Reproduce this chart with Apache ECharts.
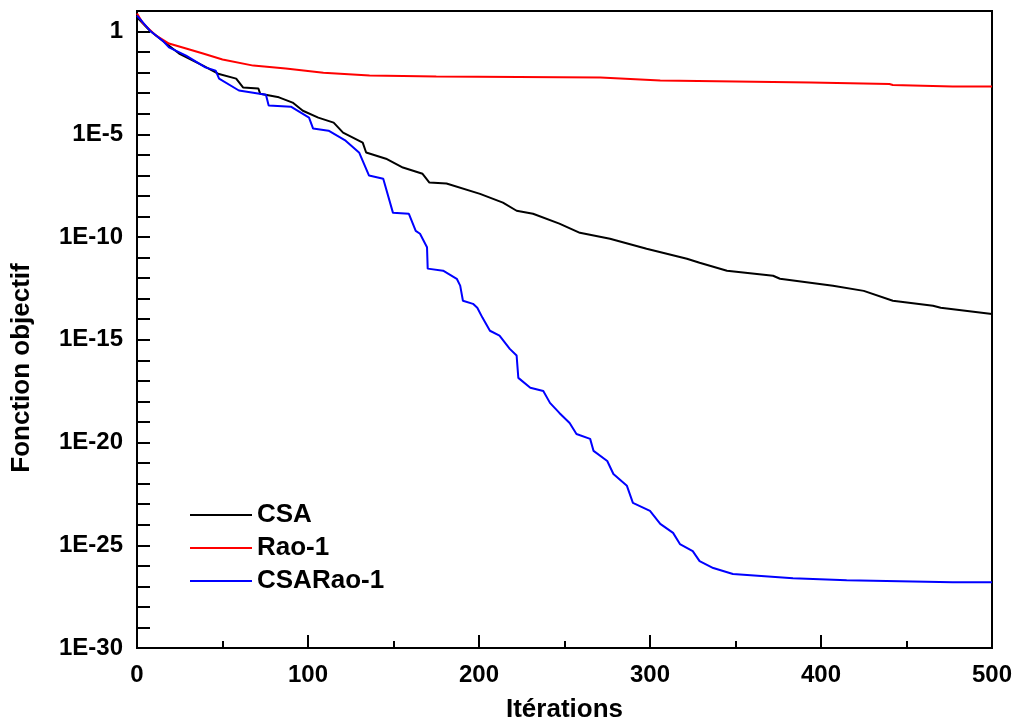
<!DOCTYPE html>
<html>
<head>
<meta charset="utf-8">
<script src="https://cdn.jsdelivr.net/npm/echarts@6/dist/echarts.min.js"></script>
<style>
  html, body { margin: 0; padding: 0; background: #fff; }
  #chart { width: 1019px; height: 724px; }
</style>
</head>
<body>
<div id="chart"></div>
<script>
// [iteration, objective value]
const csa = [
  [0, 5.0], [7.6, 1.1], [15, 0.36], [24.6, 0.085], [38.6, 0.022], [47.4, 0.0089],
  [58, 0.0051], [62, 0.0019], [71, 0.0017], [72, 9.5e-4], [83, 6.3e-4], [91, 3.5e-4],
  [97, 1.4e-4], [106, 6.5e-5], [115, 3.7e-5], [120.5, 1.2e-5], [132, 3.9e-6], [134, 1.3e-6],
  [145.6, 6.5e-7], [155.5, 2.4e-7], [167, 1.2e-7], [171, 4.5e-8], [181, 4.0e-8],
  [200.6, 1.26e-8], [214, 4.7e-9], [222, 1.9e-9], [231.6, 1.35e-9], [247, 4.5e-10],
  [259, 1.6e-10], [276.6, 8.3e-11], [298, 2.7e-11], [321.6, 8.7e-12], [329, 5.6e-12],
  [345, 2.3e-12], [372, 1.3e-12], [376, 9.3e-13], [407, 4.3e-13], [425, 2.4e-13],
  [442, 7.9e-14], [465.5, 4.5e-14], [470, 3.6e-14], [500, 1.8e-14]
];
const rao1 = [
  [0, 7.6], [3.5, 2.5], [11, 0.65], [18.7, 0.26], [28.7, 0.15], [38.6, 0.085],
  [50, 0.044], [68, 0.022], [87, 0.016], [109, 0.010], [136, 0.0072], [175, 0.0065],
  [271, 0.0058], [306, 0.0041], [394, 0.0033], [440, 0.0028], [442, 0.0025],
  [477, 0.0021], [500, 0.0021]
];
const csaRao1 = [
  [0, 6.0], [7.6, 1.1], [15, 0.36], [18.7, 0.17], [28.7, 0.068], [40, 0.018],
  [46, 0.0126], [48, 0.0051], [59.6, 0.00135], [75.4, 8.5e-4], [77, 2.5e-4], [90, 2.2e-4],
  [100.6, 6.5e-5], [103, 1.9e-5], [112, 1.5e-5], [122, 4.9e-6], [130, 1.26e-6],
  [135.7, 9.8e-8], [144, 6.9e-8], [149.7, 1.5e-9], [159, 1.35e-9], [163, 2.0e-10],
  [165.5, 1.45e-10], [169.6, 3.2e-11], [170, 2.9e-12], [179, 2.3e-12], [187, 9.3e-13],
  [189, 4.3e-13], [190.6, 7.9e-14], [196.5, 5.6e-14], [199, 3.6e-14], [202, 1.2e-14],
  [206.4, 2.75e-15], [212, 1.6e-15], [218, 3.6e-16], [222, 1.7e-16], [223, 1.4e-17],
  [230, 4.6e-18], [237.6, 3.2e-18], [241.5, 8.5e-19], [247, 2.75e-19], [253, 8.9e-20],
  [257, 2.6e-20], [265, 1.5e-20], [267, 3.9e-21], [275, 1.26e-21], [278.6, 2.95e-22],
  [286.5, 7.8e-23], [290, 1.15e-23], [300, 4.7e-24], [306, 1.1e-24], [313.5, 4.0e-25],
  [317.5, 1.15e-25], [325, 5.2e-26], [329, 1.7e-26], [337, 7.8e-27], [348.5, 4.0e-27],
  [383.6, 2.5e-27], [415, 2.0e-27], [477, 1.6e-27], [500, 1.6e-27]
];
const seriesNames = ['CSA', 'Rao-1', 'CSARao-1'];
const seriesColors = ['#000000', '#ff0000', '#0000ff'];

// y axis in decades: 1E-30 .. 10, labelled every 5 decades
const yMinExp = -30;
const yMaxExp = 1;

const font = '"Liberation Sans", Arial, sans-serif';

const chart = echarts.init(document.getElementById('chart'));

// the y axis is a linear axis over log10(value)
const toLog = (data) => data.map(([it, v]) => [it, Math.log10(v)]);

const mkLine = (name, data, color) => ({
  name: name,
  type: 'line',
  data: toLog(data),
  showSymbol: false,
  symbol: 'none',
  lineStyle: { color: color, width: 2 },
  itemStyle: { color: color }
});

chart.setOption({
  animation: false,
  grid: {
    left: 137, right: 27, top: 11, bottom: 76,
    outerBoundsMode: 'none',
    show: true, borderColor: '#000', borderWidth: 2
  },
  legend: {
    orient: 'vertical',
    left: 185, top: 497,
    icon: 'rect',
    itemWidth: 62, itemHeight: 2,
    itemGap: 7,
    textStyle: { fontFamily: font, fontWeight: 'bold', fontSize: 26, lineHeight: 26, color: '#000' },
    data: seriesNames
  },
  xAxis: {
    type: 'value',
    min: 0, max: 500, interval: 100,
    name: 'Itérations',
    nameLocation: 'middle',
    nameGap: 49,
    nameTextStyle: { fontFamily: font, fontWeight: 'bold', fontSize: 26, color: '#000' },
    axisLine: { onZero: false, lineStyle: { color: '#000', width: 2 } },
    axisTick: { inside: true, length: 13, lineStyle: { color: '#000', width: 2 } },
    minorTick: { show: true, splitNumber: 2, length: 7, lineStyle: { color: '#000', width: 2 } },
    splitLine: { show: false },
    axisLabel: { fontFamily: font, fontWeight: 'bold', fontSize: 24, color: '#000', margin: 15 }
  },
  yAxis: {
    type: 'value',
    min: yMinExp, max: yMaxExp, interval: 5,
    name: 'Fonction objectif',
    nameLocation: 'middle',
    nameGap: 102,
    nameTextStyle: { fontFamily: font, fontWeight: 'bold', fontSize: 26, color: '#000', padding: [0, 77, 0, 0] },
    axisLine: { onZero: false, lineStyle: { color: '#000', width: 2 } },
    axisTick: { inside: true, length: 13, lineStyle: { color: '#000', width: 2 } },
    minorTick: { show: true, splitNumber: 5, length: 13, lineStyle: { color: '#000', width: 2 } },
    splitLine: { show: false },
    axisLabel: {
      fontFamily: font, fontWeight: 'bold', fontSize: 24, color: '#000', margin: 14,
      formatter: function (e) {
        if (e > 0) return '';
        if (e === 0) return '1';
        return '1E' + e;
      }
    }
  },
  series: [
    mkLine(seriesNames[0], csa, seriesColors[0]),
    mkLine(seriesNames[1], rao1, seriesColors[1]),
    mkLine(seriesNames[2], csaRao1, seriesColors[2])
  ]
});
</script>
</body>
</html>
